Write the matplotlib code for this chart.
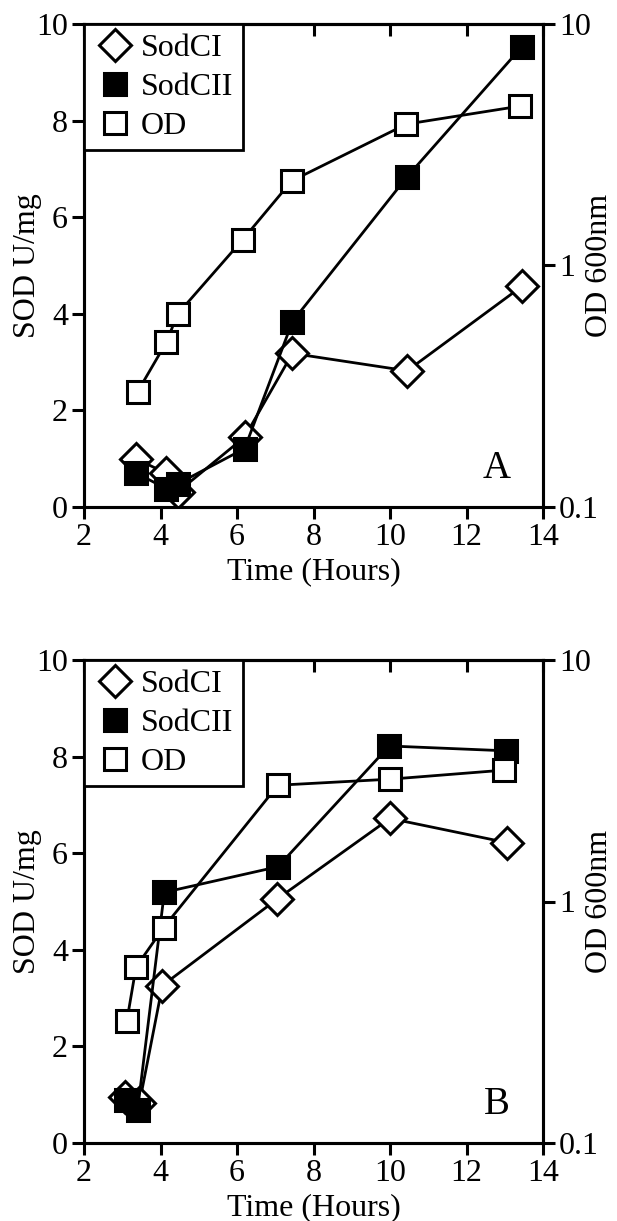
import matplotlib
matplotlib.use("Agg")
import matplotlib.pyplot as plt
from matplotlib.lines import Line2D

plt.rcParams['font.family'] = ['Liberation Serif', 'DejaVu Serif']

# panel A
a_t_sodc1 = [3.35, 4.15, 4.45, 6.2, 7.45, 10.45, 13.45]
a_sodc1 = [1.0, 0.7, 0.31, 1.45, 3.18, 2.82, 4.57]
a_t_sodc2 = [3.35, 4.15, 4.45, 6.2, 7.45, 10.45, 13.45]
a_sodc2 = [0.71, 0.38, 0.48, 1.21, 3.84, 6.84, 9.53]
a_t_od = [3.4, 4.15, 4.45, 6.15, 7.43, 10.43, 13.4]
a_od = [0.30, 0.48, 0.63, 1.28, 2.24, 3.85, 4.57]

# panel B
b_t_sodc1 = [3.08, 3.45, 4.05, 7.05, 10.0, 13.05]
b_sodc1 = [0.95, 0.83, 3.26, 5.05, 6.72, 6.22]
b_t_sodc2 = [3.1, 3.4, 4.1, 7.07, 9.98, 13.02]
b_sodc2 = [0.88, 0.68, 5.19, 5.72, 8.22, 8.12]
b_t_od = [3.12, 3.36, 4.08, 7.07, 10.0, 12.99]
b_od = [0.32, 0.535, 0.78, 3.03, 3.21, 3.50]

x_ticks = [2, 4, 6, 8, 10, 12, 14]
sod_ticks = [0, 2, 4, 6, 8, 10]
od_ticks = [0.1, 1, 10]
od_labels = ['0.1', '1', '10']
names = ['SodCI', 'SodCII', 'OD']

W, H = 617, 1221
FS = 23
MS = 16
MEW = 2.2
LW = 2.0
TL = 8.5

fig = plt.figure(figsize=(W / 100, H / 100), dpi=100)


def panel(top, bottom, t1, s1, t2, s2, t3, od, letter):
    left, right = 84, 543
    ax = fig.add_axes([left / W, 1 - bottom / H, (right - left) / W, (bottom - top) / H])
    ax2 = ax.twinx()

    ax.plot(t1, s1, color='k', lw=LW, marker='D', ms=MS, mfc='white',
            mec='k', mew=MEW, zorder=3)
    ax.plot(t2, s2, color='k', lw=LW, marker='s', ms=MS, mfc='k',
            mec='k', mew=MEW, zorder=4)
    ax2.plot(t3, od, color='k', lw=LW, marker='s', ms=MS, mfc='white',
             mec='k', mew=MEW, zorder=3)

    ax.set_xlim(2, 14)
    ax.set_ylim(0, 10)
    ax.set_xticks(x_ticks)
    ax.set_yticks(sod_ticks)
    ax2.set_yscale('log')
    ax2.set_ylim(0.1, 10)
    ax2.set_yticks(od_ticks)
    ax2.set_yticklabels(od_labels)
    ax2.minorticks_off()

    for a in (ax, ax2):
        for sp in a.spines.values():
            sp.set_linewidth(2.2)
    ax.tick_params(axis='both', direction='out', length=TL, width=2.2,
                   labelsize=FS, pad=3)
    ax2.tick_params(axis='y', direction='out', length=TL, width=2.2,
                    labelsize=FS, pad=3)
    top_ax = ax.secondary_xaxis('top')
    top_ax.set_xticks(x_ticks)
    top_ax.tick_params(axis='x', direction='in', length=TL, width=2.2,
                       labeltop=False)
    top_ax.spines['top'].set_linewidth(2.2)

    ax.set_xlabel('Time (Hours)', fontsize=FS, labelpad=4)
    ax.set_ylabel('SOD U/mg', fontsize=FS)
    ax.yaxis.set_label_coords(-0.124, 0.5)
    ax.yaxis.label.set_va('center')
    ax2.set_ylabel('OD 600nm', fontsize=FS)
    ax2.yaxis.set_label_coords(1.124, 0.5)
    ax2.yaxis.label.set_va('center')

    ax.text(0.9, 0.06, letter, transform=ax.transAxes, fontsize=28,
            ha='center', va='baseline')

    handles = [
        Line2D([], [], ls='none', marker='D', ms=MS, mfc='white', mec='k', mew=MEW),
        Line2D([], [], ls='none', marker='s', ms=MS, mfc='k', mec='k', mew=MEW),
        Line2D([], [], ls='none', marker='s', ms=MS, mfc='white', mec='k', mew=MEW),
    ]
    leg = ax2.legend(handles, names, loc='upper left', borderaxespad=0,
                     fontsize=FS, fancybox=False, framealpha=1, edgecolor='k',
                     handlelength=1.34, handletextpad=0.15, labelspacing=0.3,
                     borderpad=0.3)
    leg.get_frame().set_linewidth(2.0)
    leg.set_zorder(10)


panel(24, 507, a_t_sodc1, a_sodc1, a_t_sodc2, a_sodc2, a_t_od, a_od, 'A')
panel(660, 1143, b_t_sodc1, b_sodc1, b_t_sodc2, b_sodc2, b_t_od, b_od, 'B')

fig.savefig('out.png', dpi=100)
